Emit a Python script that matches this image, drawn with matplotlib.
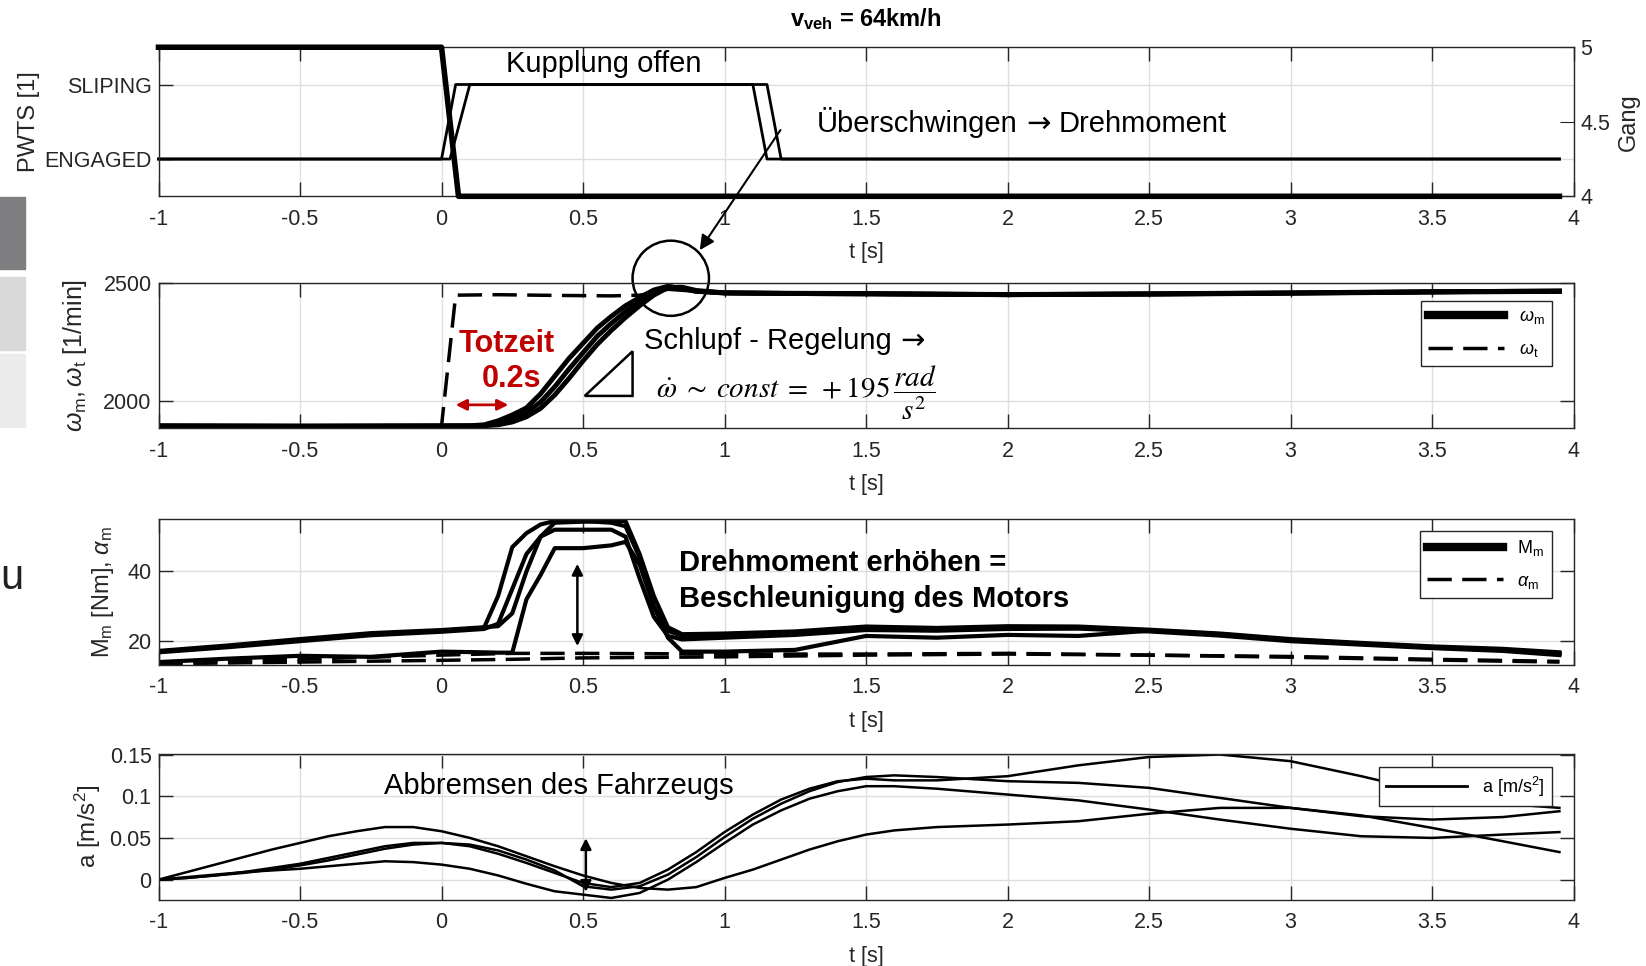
import matplotlib
matplotlib.use('Agg')
import matplotlib.pyplot as plt
from matplotlib.patches import Ellipse, Polygon, Rectangle
from matplotlib.lines import Line2D

plt.rcParams['font.family'] = ['Liberation Sans', 'DejaVu Sans']
plt.rcParams['mathtext.fontset'] = 'custom'
plt.rcParams['mathtext.rm'] = 'Liberation Sans'
plt.rcParams['mathtext.it'] = 'Liberation Sans:italic'
plt.rcParams['mathtext.bf'] = 'Liberation Sans:bold'

# shared time axis
x_ticks = [-1, -0.5, 0, 0.5, 1, 1.5, 2, 2.5, 3, 3.5, 4]
x_tick_labels = ['-1', '-0.5', '0', '0.5', '1', '1.5', '2', '2.5', '3', '3.5', '4']

# panel 1: PWTS state and gear
pwts_states = ['ENGAGED', 'SLIPING']
t_pwts_a = [-1, 0.0, 0.05, 1.1, 1.15, 3.95]
pwts_a = [1, 1, 2, 2, 1, 1]
t_pwts_b = [-1, 0.03, 0.1, 1.15, 1.2, 3.95]
pwts_b = [1, 1, 2, 2, 1, 1]
t_gang = [-1, 0.0, 0.06, 3.95]
gang = [5, 5, 4, 4]
gang_ticks = [4, 4.5, 5]
gang_tick_labels = ['4', '4.5', '5']

# panel 2: motor speed (3 runs) and target speed
t_w = [-1.0, -0.5, 0.0, 0.1, 0.15, 0.2, 0.25, 0.3, 0.35, 0.4, 0.45, 0.5, 0.55, 0.6,
       0.65, 0.7, 0.75, 0.8, 0.85, 0.9, 1.0, 1.25, 1.5, 2.0, 2.5, 3.0, 3.5, 3.95]
w_m_1 = [1893, 1892, 1893, 1894, 1898, 1915, 1940, 1970, 2030, 2105, 2180, 2245, 2310, 2360,
         2405, 2440, 2472, 2488, 2478, 2466, 2460, 2458, 2457, 2452, 2456, 2460, 2465, 2467]
w_m_2 = [1893, 1892, 1893, 1893, 1895, 1903, 1922, 1950, 1995, 2060, 2135, 2205, 2275, 2330,
         2380, 2425, 2463, 2486, 2480, 2467, 2459, 2457, 2456, 2453, 2455, 2459, 2464, 2468]
w_m_3 = [1893, 1892, 1893, 1893, 1894, 1898, 1910, 1932, 1968, 2025, 2095, 2170, 2240, 2300,
         2355, 2405, 2450, 2482, 2484, 2470, 2460, 2457, 2455, 2452, 2454, 2458, 2463, 2466]
t_wt = [-1.0, 0.0, 0.05, 0.2, 0.4, 0.6, 0.7, 0.75, 0.8, 1.0, 2.0, 3.0, 3.95]
w_t = [1893, 1893, 2450, 2452, 2449, 2447, 2450, 2460, 2475, 2458, 2452, 2458, 2465]
w_ticks = [2000, 2500]

# panel 3: motor torque (4 runs) and motor acceleration (2 runs)
t_M = [-1.0, -0.75, -0.5, -0.25, 0.0, 0.15, 0.2, 0.25, 0.3, 0.35, 0.4, 0.5, 0.6, 0.65, 0.7,
       0.75, 0.8, 0.85, 1.0, 1.25, 1.5, 1.75, 2.0, 2.25, 2.5, 2.75, 3.0, 3.25, 3.5, 3.75, 3.95]
M_a = [17.0, 18.5, 20.3, 22.0, 23.0, 23.8, 33.0, 47.0, 51.0, 53.5, 54.5, 54.5, 54.0, 53.0, 44.0,
       30.0, 23.0, 21.5, 22.0, 22.5, 24.0, 23.5, 24.0, 24.0, 23.0, 22.0, 20.3, 19.3, 18.3, 17.5, 16.5]
M_b = [16.8, 18.3, 20.0, 21.7, 22.7, 23.5, 25.0, 35.0, 45.0, 50.0, 52.0, 52.0, 52.0, 50.0, 38.0,
       27.0, 21.5, 20.5, 21.0, 21.8, 23.2, 23.0, 23.5, 23.6, 22.8, 21.6, 20.0, 19.0, 18.0, 17.2, 16.0]
M_c = [17.2, 18.8, 20.6, 22.3, 23.2, 24.0, 24.3, 28.0, 40.0, 50.0, 54.0, 54.3, 54.5, 54.5, 45.0,
       33.0, 24.0, 22.0, 22.2, 22.8, 24.2, 23.8, 24.3, 24.2, 23.3, 22.2, 20.6, 19.5, 18.5, 17.8, 16.8]
M_d = [14.0, 15.0, 15.8, 15.5, 17.0, 16.8, 16.7, 16.7, 32.0, 39.0, 46.7, 46.7, 47.5, 48.5, 42.0,
       30.0, 21.0, 17.0, 17.0, 17.5, 21.5, 21.0, 21.8, 21.5, 23.0, 22.0, 20.3, 19.2, 18.2, 17.4, 16.4]
t_alpha = [-1.0, -0.5, 0.0, 0.25, 0.5, 1.0, 1.5, 2.0, 2.5, 3.0, 3.5, 3.95]
alpha_1 = [13.5, 14.0, 14.5, 14.8, 15.2, 15.5, 16.0, 16.3, 16.0, 15.6, 14.8, 14.2]
alpha_2 = [14.0, 14.8, 16.0, 16.5, 16.5, 16.3, 16.3, 16.5, 16.0, 15.4, 14.6, 14.0]
M_ticks = [20, 40]

# panel 4: vehicle acceleration (4 runs)
t_a = [-1.0, -0.9, -0.8, -0.7, -0.6, -0.5, -0.4, -0.3, -0.2, -0.1, 0.0, 0.1, 0.2, 0.3, 0.4,
       0.5, 0.6, 0.7, 0.8, 0.9, 1.0, 1.1, 1.2, 1.3, 1.4, 1.5, 1.6, 1.75, 2.0, 2.25, 2.5, 2.75,
       3.0, 3.25, 3.5, 3.75, 3.95]
a_s = [0.0, 0.009, 0.018, 0.027, 0.036, 0.044, 0.052, 0.058, 0.063, 0.063, 0.058, 0.050,
       0.040, 0.028, 0.016, 0.005, -0.004, -0.010, -0.012, -0.009, 0.002, 0.012, 0.024, 0.036,
       0.046, 0.054, 0.059, 0.063, 0.066, 0.070, 0.079, 0.086, 0.086, 0.077, 0.062, 0.046, 0.033]
a_p = [0.0, 0.002, 0.005, 0.009, 0.014, 0.019, 0.026, 0.033, 0.040, 0.044, 0.044, 0.040,
       0.031, 0.020, 0.008, -0.004, -0.009, -0.004, 0.012, 0.033, 0.057, 0.078, 0.096, 0.109,
       0.118, 0.121, 0.119, 0.119, 0.124, 0.137, 0.147, 0.150, 0.142, 0.124, 0.104, 0.091, 0.086]
a_q = [0.0, 0.002, 0.005, 0.008, 0.012, 0.017, 0.023, 0.030, 0.037, 0.042, 0.044, 0.042,
       0.035, 0.024, 0.011, -0.008, -0.012, -0.008, 0.006, 0.027, 0.051, 0.073, 0.091, 0.106,
       0.117, 0.123, 0.125, 0.123, 0.118, 0.116, 0.110, 0.098, 0.086, 0.076, 0.072, 0.075, 0.082]
a_r = [0.0, 0.003, 0.006, 0.009, 0.011, 0.013, 0.016, 0.019, 0.022, 0.021, 0.018, 0.013,
       0.005, -0.005, -0.014, -0.018, -0.022, -0.016, 0.000, 0.021, 0.044, 0.066, 0.083, 0.097,
       0.106, 0.112, 0.112, 0.109, 0.102, 0.095, 0.084, 0.072, 0.061, 0.052, 0.050, 0.054, 0.057]
a_ticks = [0, 0.05, 0.1, 0.15]
a_tick_labels = ['0', '0.05', '0.1', '0.15']

red = '#C00000'
axcol = '#262626'
gridcol = '#dedede'


def style(ax, right_ticks=True):
    ax.set_xlim(-1, 4)
    ax.set_xticks(x_ticks)
    ax.set_xticklabels(x_tick_labels)
    ax.grid(True, color=gridcol, linewidth=1)
    ax.set_axisbelow(True)
    ax.tick_params(direction='in', length=10, width=1, top=True, right=right_ticks,
                   labelsize=15.5, colors=axcol, pad=9)
    ax.tick_params(axis='y', pad=5)
    for s in ax.spines.values():
        s.set_color(axcol)
        s.set_linewidth(1)
    ax.set_xlabel('t [s]', fontsize=15.5, color=axcol, labelpad=9)


def arrow_text(ax, x, y, before, after, size, **kw):
    # the arrow glyph comes from DejaVu Sans, the words from Liberation Sans
    t = ax.text(x, y, before, fontsize=size, ha='left', va='center', **kw)
    t = ax.annotate('→', xy=(1, 0), xycoords=t, xytext=(6, 0), textcoords='offset points',
                    fontsize=size, family='DejaVu Sans', ha='left', va='bottom', **kw)
    if after:
        ax.annotate(after, xy=(1, 0), xycoords=t, xytext=(6, 0), textcoords='offset points',
                    fontsize=size, ha='left', va='bottom', **kw)


fig = plt.figure(figsize=(16.46, 9.66), dpi=100)
L, W = 0.0963, 0.8597
ax1 = fig.add_axes([L, 0.7968, W, 0.1543])
ax2 = fig.add_axes([L, 0.5566, W, 0.1500])
ax3 = fig.add_axes([L, 0.3121, W, 0.1511])
ax4 = fig.add_axes([L, 0.0687, W, 0.1511])

# ---- panel 1
style(ax1, right_ticks=False)
ax1.plot(t_pwts_a, pwts_a, color='black', lw=2, clip_on=False)
ax1.plot(t_pwts_b, pwts_b, color='black', lw=2, clip_on=False)
ax1.set_ylim(0.5, 2.5)
ax1.set_yticks([1, 2])
ax1.set_yticklabels(pwts_states)
ax1.set_ylabel('PWTS [1]', fontsize=17, color=axcol)
ax1.yaxis.set_label_coords(-0.084, 0.5)
ax1b = ax1.twinx()
ax1b.plot(t_gang, gang, color='black', lw=4, clip_on=False)
ax1b.set_ylim(4, 5)
ax1b.set_yticks(gang_ticks)
ax1b.set_yticklabels(gang_tick_labels)
ax1b.tick_params(direction='in', length=10, labelsize=15.5, colors=axcol, pad=5)
ax1b.set_ylabel('Gang', fontsize=17, color=axcol)
ax1b.yaxis.set_label_coords(1.031, 0.5)
for s in ax1b.spines.values():
    s.set_visible(False)
ax1.set_title(r'$\mathbf{v_{veh}}$ = 64km/h', fontsize=17, fontweight='bold', pad=15)
ax1.text(0.573, 2.27, 'Kupplung offen', fontsize=21, ha='center', va='center')
arrow_text(ax1, 1.326, 1.49, 'Überschwingen', 'Drehmoment', 21)

# ---- panel 2
style(ax2)
for wm in (w_m_1, w_m_2, w_m_3):
    ax2.plot(t_w, wm, color='black', lw=3.5)
ax2.plot(t_wt, w_t, color='black', lw=2.5, dashes=(7, 3))
ax2.set_ylim(1883, 2500)
ax2.set_yticks(w_ticks)
ax2.set_ylabel(r'$\omega_{\rm m}, \omega_{\rm t}$ [1/min]', fontsize=18, color=axcol)
ax2.yaxis.set_label_coords(-0.049, 0.5)
ax2.text(0.231, 2240, 'Totzeit', fontsize=22, fontweight='bold', color=red, ha='center', va='center')
ax2.text(0.246, 2092, '0.2s', fontsize=22, fontweight='bold', color=red, ha='center', va='center')
ax2.annotate('', xy=(0.04, 1983), xytext=(0.246, 1983),
             arrowprops=dict(arrowstyle='<|-|>', color=red, lw=2, mutation_scale=16))
arrow_text(ax2, 0.717, 2255, 'Schlupf - Regelung', '', 21)
ax2.text(0.758, 2031, r'$\dot{\omega}\;\sim\;const\;=\;+195\,\dfrac{rad}{s^2}$', fontsize=21,
         ha='left', va='center', math_fontfamily='stix')
ax2.add_patch(Polygon([[0.506, 2021], [0.675, 2021], [0.675, 2211]], closed=True,
                      fill=False, edgecolor='black', lw=1.8))
ax2.add_patch(Ellipse((0.81, 2522), width=0.27, height=320, fill=False,
                      edgecolor='black', lw=1.8, clip_on=False))
ax2.annotate('', xy=(0.907, 2632), xycoords=ax2.transData,
             xytext=(1.203, 1.42), textcoords=ax1.transData, annotation_clip=False,
             arrowprops=dict(arrowstyle='-|>', color='black', lw=1.5, mutation_scale=22))
h_wm = Line2D([], [], color='black', lw=6)
h_wt = Line2D([], [], color='black', lw=2.5, dashes=(7, 3))
ax2.legend([h_wm, h_wt], [r'$\omega_{\rm m}$', r'$\omega_{\rm t}$'], loc='upper right',
           bbox_to_anchor=(0.9844, 0.877), borderaxespad=0, fontsize=13, handlelength=4.2,
           fancybox=False, framealpha=1, edgecolor=axcol, labelspacing=0.8)

# ---- panel 3
style(ax3)
for M in (M_a, M_b, M_c, M_d):
    ax3.plot(t_M, M, color='black', lw=3)
for al in (alpha_1, alpha_2):
    ax3.plot(t_alpha, al, color='black', lw=2.5, dashes=(7, 3))
ax3.set_ylim(13.3, 55.2)
ax3.set_yticks(M_ticks)
ax3.set_ylabel(r'M$_{\rm m}$ [Nm], $\alpha_{\rm m}$', fontsize=17, color=axcol)
ax3.yaxis.set_label_coords(-0.030, 0.5)
ax3.text(0.84, 42.4, 'Drehmoment erhöhen =', fontsize=21, fontweight='bold', ha='left', va='center')
ax3.text(0.84, 32.2, 'Beschleunigung des Motors', fontsize=21, fontweight='bold', ha='left', va='center')
ax3.annotate('', xy=(0.48, 17.8), xytext=(0.48, 43),
             arrowprops=dict(arrowstyle='<|-|>', color='black', lw=1.8, mutation_scale=16))
h_M = Line2D([], [], color='black', lw=6)
h_al = Line2D([], [], color='black', lw=2.5, dashes=(7, 3))
ax3.legend([h_M, h_al], [r'M$_{\rm m}$', r'$\alpha_{\rm m}$'], loc='upper right',
           bbox_to_anchor=(0.9844, 0.914), borderaxespad=0, fontsize=13, handlelength=4.2,
           fancybox=False, framealpha=1, edgecolor=axcol, labelspacing=0.8)

# ---- panel 4
style(ax4)
for a in (a_s, a_p, a_q, a_r):
    ax4.plot(t_a, a, color='black', lw=1.8)
ax4.set_ylim(-0.024, 0.151)
ax4.set_yticks(a_ticks)
ax4.set_yticklabels(a_tick_labels)
ax4.set_ylabel(r'a [m/s$^2$]', fontsize=17.5, color=axcol)
ax4.yaxis.set_label_coords(-0.039, 0.5)
ax4.text(0.413, 0.1125, 'Abbremsen des Fahrzeugs', fontsize=21, ha='center', va='center')
ax4.annotate('', xy=(0.51, -0.018), xytext=(0.51, 0.053),
             arrowprops=dict(arrowstyle='<|-|>', color='black', lw=1.8, mutation_scale=16))
h_a = Line2D([], [], color='black', lw=2)
ax4.legend([h_a], [r'a [m/s$^2$]'], loc='upper right', bbox_to_anchor=(0.9844, 0.906),
           borderaxespad=0, fontsize=13, handlelength=4.5, fancybox=False, framealpha=1,
           edgecolor=axcol)

# slide leftovers at the left edge
fig.patches.append(Rectangle((0, 0.7215), 0.0152, 0.0745, transform=fig.transFigure,
                             color='#7f7f82', zorder=0))
fig.patches.append(Rectangle((0, 0.6377), 0.0152, 0.0756, transform=fig.transFigure,
                             color='#d9d9d9', zorder=0))
fig.patches.append(Rectangle((0, 0.5580), 0.0152, 0.0756, transform=fig.transFigure,
                             color='#ececec', zorder=0))
fig.text(0.0, 0.402, 'u', fontsize=30, ha='left', va='center', color='#222222')

fig.savefig('out.png', dpi=100)
